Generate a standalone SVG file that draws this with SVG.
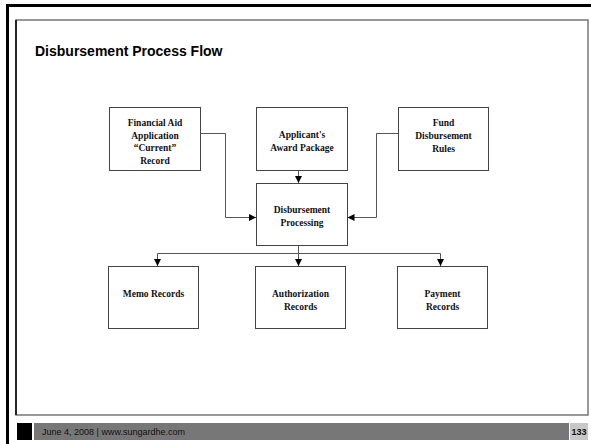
<svg xmlns="http://www.w3.org/2000/svg" width="591" height="444" viewBox="0 0 591 444">
  <defs>
    <marker id="arrow" viewBox="0 0 10 10" refX="10" refY="5" markerWidth="7" markerHeight="7" markerUnits="userSpaceOnUse" orient="auto">
      <path d="M0,0 L10,5 L0,10 z" fill="#000"/>
    </marker>
    <style>
      .box { fill: #fff; stroke: #444; stroke-width: 1; }
      .lbl { font-family: "Liberation Serif", "Times New Roman", serif; font-weight: bold; font-size: 9.5px; fill: #111; text-anchor: middle; }
      .wire { fill: none; stroke: #555; stroke-width: 1; }
      .wire-a { fill: none; stroke: #555; stroke-width: 1; marker-end: url(#arrow); }
      .foot { font-family: "Liberation Sans", Arial, sans-serif; font-size: 9px; fill: #111; }
    </style>
  </defs>

  <!-- page background and frames -->
  <rect x="0" y="0" width="591" height="444" fill="#fff"/>
  <path d="M7.5,444 V5.5 H591" fill="none" stroke="#000" stroke-width="3"/>
  <rect x="16" y="20" width="572" height="395" fill="#fff" stroke="#777" stroke-width="1.5"/>
  <line x1="16" y1="20" x2="16" y2="415" stroke="#000" stroke-width="1.5"/>

  <!-- title -->
  <text x="35" y="56" font-family="Liberation Sans, Arial, sans-serif" font-weight="bold" font-size="14" fill="#000">Disbursement Process Flow</text>

  <!-- connectors -->
  <g id="connectors">
    <path class="wire-a" d="M200.5,133.5 H225.5 V217.5 H256"/>
    <path class="wire-a" d="M398,133.5 H376.5 V217.5 H347.5"/>
    <path class="wire-a" d="M298.5,170 V183"/>
    <path class="wire" d="M298.5,245 V253.5"/>
    <path class="wire" d="M157.5,253.5 H440.5"/>
    <path class="wire-a" d="M157.5,253.5 V266"/>
    <path class="wire-a" d="M298.5,253.5 V266"/>
    <path class="wire-a" d="M440.5,253.5 V266"/>
  </g>

  <!-- nodes -->
  <g id="financial-aid">
    <rect class="box" x="109.5" y="107.5" width="91" height="63"/>
    <text class="lbl" x="155" y="126">Financial Aid</text>
    <text class="lbl" x="155" y="138.5">Application</text>
    <text class="lbl" x="155" y="151">“Current”</text>
    <text class="lbl" x="155" y="163.5">Record</text>
  </g>
  <g id="award-package">
    <rect class="box" x="256.5" y="107.5" width="91" height="63"/>
    <text class="lbl" x="302" y="138">Applicant's</text>
    <text class="lbl" x="302" y="151">Award Package</text>
  </g>
  <g id="fund-rules">
    <rect class="box" x="398.5" y="107.5" width="90" height="63"/>
    <text class="lbl" x="443.5" y="125.5">Fund</text>
    <text class="lbl" x="443.5" y="138.5">Disbursement</text>
    <text class="lbl" x="443.5" y="151.5">Rules</text>
  </g>
  <g id="processing">
    <rect class="box" x="256.5" y="183.5" width="91" height="62"/>
    <text class="lbl" x="302" y="213">Disbursement</text>
    <text class="lbl" x="302" y="226">Processing</text>
  </g>
  <g id="memo-records">
    <rect class="box" x="108.5" y="266.5" width="90" height="62"/>
    <text class="lbl" x="153.5" y="297">Memo Records</text>
  </g>
  <g id="authorization-records">
    <rect class="box" x="255.5" y="266.5" width="90" height="62"/>
    <text class="lbl" x="300.5" y="297">Authorization</text>
    <text class="lbl" x="300.5" y="309.5">Records</text>
  </g>
  <g id="payment-records">
    <rect class="box" x="397.5" y="266.5" width="90" height="62"/>
    <text class="lbl" x="442.5" y="297">Payment</text>
    <text class="lbl" x="442.5" y="309.5">Records</text>
  </g>

  <!-- footer bar -->
  <rect x="17" y="423" width="15" height="17" fill="#000"/>
  <rect x="34" y="423" width="535" height="17" fill="#777"/>
  <rect x="570" y="423" width="18" height="17" fill="#c8c8c8"/>
  <text class="foot" x="42" y="435">June 4, 2008 | www.sungardhe.com</text>
  <text class="foot" x="579" y="435" font-weight="bold" text-anchor="middle">133</text>
</svg>
